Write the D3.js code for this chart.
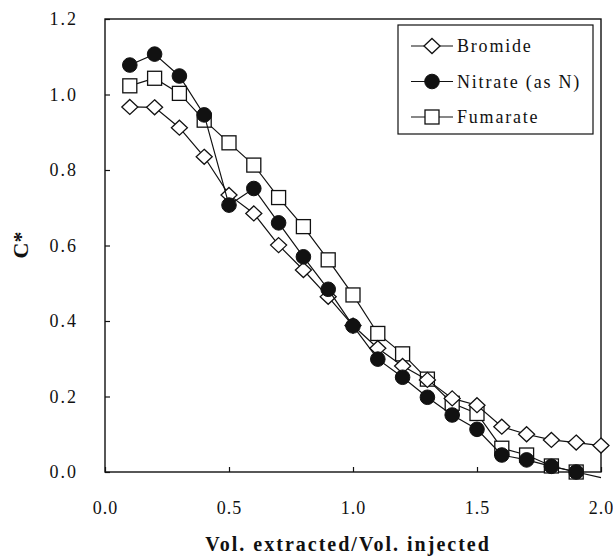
<!DOCTYPE html>
<meta charset="utf-8">
<script src="https://d3js.org/d3.v7.min.js"></script>
<style>
  body { margin: 0; background: #fff; }
  text { font-family: "Liberation Serif", "Times New Roman", serif; fill: #111; }
</style>
<div id="chart"></div>
<script>
// data
var volRatio = [0.1, 0.2, 0.3, 0.4, 0.5, 0.6, 0.7, 0.8, 0.9, 1.0, 1.1, 1.2, 1.3, 1.4, 1.5, 1.6, 1.7, 1.8, 1.9, 2.0];
var bromide  = [0.967, 0.966, 0.912, 0.835, 0.734, 0.685, 0.601, 0.535, 0.464, 0.388, 0.328, 0.281, 0.244, 0.195, 0.177, 0.120, 0.100, 0.085, 0.078, 0.070];
var nitrate  = [1.078, 1.107, 1.049, 0.946, 0.707, 0.751, 0.660, 0.570, 0.484, 0.387, 0.299, 0.251, 0.198, 0.151, 0.113, 0.045, 0.032, 0.015, 0.000, -0.015];
var fumarate = [1.023, 1.043, 1.003, 0.932, 0.872, 0.813, 0.727, 0.650, 0.562, 0.469, 0.367, 0.313, 0.246, 0.182, 0.155, 0.063, 0.045, 0.016, 0.000];
var seriesNames = ["Bromide", "Nitrate (as N)", "Fumarate"];
var xTicks = [0, 0.5, 1.0, 1.5, 2.0];
var yTicks = [0, 0.2, 0.4, 0.6, 0.8, 1.0, 1.2];

var width = 613, height = 557;
var margin = {left: 105, top: 19, right: 12, bottom: 85};

var svg = d3.select("#chart").append("svg")
  .attr("width", width).attr("height", height);

var x = d3.scaleLinear().domain([0, 2]).range([margin.left, width - margin.right]);
var y = d3.scaleLinear().domain([0, 1.2]).range([height - margin.bottom, margin.top]);

// frame
svg.append("rect")
  .attr("x", x(0)).attr("y", y(1.2))
  .attr("width", x(2) - x(0)).attr("height", y(0) - y(1.2))
  .attr("fill", "none").attr("stroke", "#111").attr("stroke-width", 1.4);

// axes with inward ticks
var xAxis = svg.append("g")
  .attr("transform", "translate(0," + y(0) + ")")
  .call(d3.axisBottom(x).tickValues(xTicks).tickSizeInner(-5).tickSizeOuter(0).tickPadding(29).tickFormat(d3.format(".1f")));
var yAxis = svg.append("g")
  .attr("transform", "translate(" + x(0) + ",0)")
  .call(d3.axisLeft(y).tickValues(yTicks).tickSizeInner(-5).tickSizeOuter(0).tickPadding(27).tickFormat(d3.format(".1f")));
[xAxis, yAxis].forEach(function(a) {
  a.attr("font-family", null).attr("font-size", null);
  a.select(".domain").remove();
  a.selectAll("line").attr("stroke", "#111").attr("stroke-width", 1.2);
  a.selectAll("text").style("font-size", "18px").style("letter-spacing", "2px").attr("fill", "#111");
});
xAxis.selectAll("text").style("letter-spacing", "1px");

// axis titles
svg.append("text")
  .attr("x", 348).attr("y", 551)
  .attr("text-anchor", "middle")
  .style("font-size", "20px").style("font-weight", "bold").style("letter-spacing", "2px")
  .text("Vol. extracted/Vol. injected");
svg.append("text")
  .attr("transform", "translate(28,245) rotate(-90)")
  .attr("text-anchor", "middle")
  .style("font-size", "22px").style("font-weight", "bold")
  .text("C*");

// marker drawers
function diamond(g) {
  g.append("path").attr("d", "M0,-7.5L8,0L0,7.5L-8,0Z")
    .attr("fill", "#fff").attr("stroke", "#111").attr("stroke-width", 1.3);
}
function dot(g) {
  g.append("circle").attr("r", 7.3).attr("fill", "#111").attr("stroke", "#111");
}
function square(g) {
  g.append("rect").attr("x", -7).attr("y", -7).attr("width", 14).attr("height", 14)
    .attr("fill", "#fff").attr("stroke", "#111").attr("stroke-width", 1.3);
}

var series = [
  {name: seriesNames[2], values: fumarate, marker: square},
  {name: seriesNames[0], values: bromide, marker: diamond},
  {name: seriesNames[1], values: nitrate, marker: dot}
];

var line = d3.line().x(function(d) { return x(d[0]); }).y(function(d) { return y(d[1]); });

series.forEach(function(s) {
  var pts = s.values.map(function(v, i) { return [volRatio[i], v]; });
  svg.append("path").datum(pts)
    .attr("d", line).attr("fill", "none").attr("stroke", "#111").attr("stroke-width", 1.2);
  svg.selectAll(null)
    .data(pts.filter(function(p) { return p[1] >= 0; }))
    .enter().append("g")
    .attr("transform", function(p) { return "translate(" + x(p[0]) + "," + y(p[1]) + ")"; })
    .each(function() { s.marker(d3.select(this)); });
});

// legend
var legend = svg.append("g");
legend.append("rect")
  .attr("x", 398).attr("y", 25).attr("width", 195).attr("height", 109)
  .attr("fill", "#fff").attr("stroke", "#111").attr("stroke-width", 1.2);
var legendItems = [
  {name: seriesNames[0], marker: diamond},
  {name: seriesNames[1], marker: dot},
  {name: seriesNames[2], marker: square}
];
legendItems.forEach(function(it, i) {
  var cy = 46 + i * 35.5;
  legend.append("line").attr("x1", 411).attr("x2", 453).attr("y1", cy).attr("y2", cy)
    .attr("stroke", "#111").attr("stroke-width", 1.2);
  var m = legend.append("g").attr("transform", "translate(432," + cy + ")");
  it.marker(m);
  legend.append("text")
    .attr("x", 457).attr("y", cy + 6)
    .style("font-size", "18px").style("letter-spacing", "1.8px")
    .text(it.name);
});
</script>
